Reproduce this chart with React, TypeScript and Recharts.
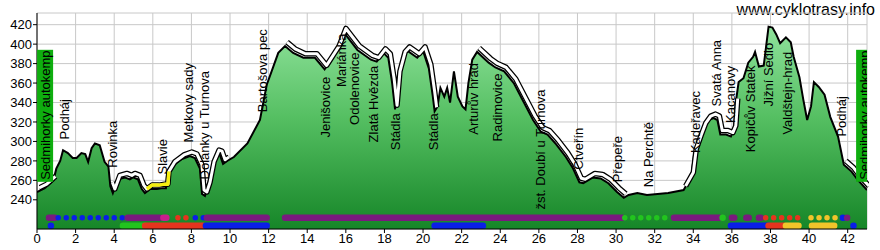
import { ComposedChart, Area, Line, Scatter, XAxis, YAxis, CartesianGrid } from "recharts";

// elevation profile, km along the route
const km = [
  0, 0.4, 0.85, 1.0, 1.2, 1.35, 1.6, 1.85, 2.05, 2.3, 2.5, 2.65, 2.83, 3.0, 3.25, 3.5, 3.7, 3.8, 3.93,
  4.19, 4.55, 4.81, 4.97, 5.23, 5.43, 5.59, 5.85, 6.21, 6.52, 6.68, 6.73, 7.04, 7.51, 7.92, 8.18, 8.44,
  8.55, 8.7, 8.86, 9.07, 9.33, 9.48, 9.64, 9.85, 10.2, 10.9, 11.55, 11.9, 12.5, 12.85, 13.27, 13.8, 14.4,
  14.9, 15.55, 15.9, 16.6, 17.3, 17.6, 17.95, 18.2, 18.4, 18.55, 18.7, 18.97, 19.2, 19.7, 20.0, 20.3, 20.5,
  20.6, 20.75, 20.9, 21.1, 21.25, 21.4, 21.6, 21.8, 22.04, 22.2, 22.35, 22.55, 22.8, 23.4, 23.75, 24.2,
  24.7, 25.2, 25.7, 26.1, 26.45, 26.9, 27.4, 27.75, 28.1, 28.3, 28.8, 29.2, 29.6, 30.05, 30.4, 30.65, 31.1,
  31.6, 32.15, 32.7, 33.5, 33.9, 34.05, 34.3, 34.55, 34.8, 35.05, 35.25, 35.4, 35.7, 35.95, 36.1, 36.2,
  36.35, 36.6, 36.85, 37.1, 37.2, 37.4, 37.65, 37.9, 38.1, 38.3, 38.5, 38.8, 39.05, 39.2, 39.5, 39.7, 39.9,
  40.1, 40.25, 40.5, 40.8, 41.1, 41.5, 41.8, 42.2, 42.5, 43.0,
];
const elevation = [
  248, 252, 260, 272, 280, 291, 288, 283, 283, 288, 287, 279, 293, 298, 296, 279, 274, 254, 247,
  261, 263, 261, 263, 261, 251, 247, 251, 251, 252, 252, 265, 275, 282, 285, 283, 272,
  246, 244, 254, 275, 287, 286, 277, 280, 284, 298, 322, 358, 391, 398, 391, 386, 386,
  374, 394, 412, 394, 384, 382, 391, 386, 360, 333, 368, 388, 393, 386, 393, 375, 347,
  331, 336, 355, 346, 355, 340, 372, 346, 336, 333, 360, 384, 392, 381, 376, 372,
  360, 341, 322, 310, 307, 297, 284, 273, 258, 257, 263, 262, 257, 248, 242, 245, 247,
  245, 246, 247, 250, 264, 288, 302, 315, 322, 324, 322, 307, 307, 305, 312, 340,
  361, 365, 381, 387, 392, 377, 378, 418, 417, 410, 401, 407, 402, 387, 366, 343, 322,
  336, 361, 356, 348, 325, 305, 276, 269, 261, 250,
];

// stretches drawn with the white outline
const bandSegments = [
  [0, 0.9], [3.75, 9.9], [12.6, 20.65], [22.8, 30.4], [33.0, 36.25], [41.7, 43],
];
const slavieSegment = [5.55, 6.75];

const xTicks = [0, 2, 4, 6, 8, 10, 12, 14, 16, 18, 20, 22, 24, 26, 28, 30, 32, 34, 36, 38, 40, 42];
const yTicks = [240, 260, 280, 300, 320, 340, 360, 380, 400, 420];

// waypoint names, position and where the text begins
const labelKm = [
  1.44, 3.93, 6.5, 7.83, 8.7, 11.66, 14.93, 15.8, 16.43, 17.42, 18.56, 20.53, 22.6, 23.86, 26.1,
  28.05, 30.08, 31.7, 34.1, 35.2, 35.95, 36.98, 37.92, 38.9, 41.66,
];
const labelNames = [
  "Podháj", "Rovinka", "Slavie", "Metkovy sady", "Dolánky u Turnova", "Bartošova pec", "Jenišovice",
  "Mariánka", "Odolenovice", "Zlatá Hvězda", "Stádla", "Stádla", "Arturův hrad", "Radimovice",
  "žst. Doubí u Turnova", "Čtveřín", "Přepeře", "Na Perchtě", "Kadeřavec", "Svatá Anna", "Kacanovy",
  "Kopičův Statek", "Jižní Sedlo", "Valdštejn-hrad", "Podháj",
];
const labelBase = [
  302, 273, 266, 299, 261, 330, 304, 356, 317, 299, 291, 291, 307, 300, 230,
  271, 258, 253, 288, 336, 319, 289, 336, 307, 305,
];
const campKm = [0.42, 42.85];
const campName = "Sedmihorky autokemp";
const campBase = 258.5;

// surface / road type strips: [from, to, colour, kind]
const purple = "#7a1a7e";
const blue = "#0a1ee8";
const green = "#22c41e";
const red = "#e6341e";
const yellow = "#f2c42a";
const magenta = "#c81e8c";

const stripTop: [number, number, string, string][] = [
  [0.62, 0.92, purple, "bar"],
  [1.1, 4.45, blue, "dots"],
  [4.7, 6.35, purple, "bar"],
  [6.55, 6.7, magenta, "bar"],
  [7.3, 7.72, red, "dots"],
  [8.2, 8.62, blue, "dots"],
  [8.8, 11.9, purple, "bar"],
  [12.85, 30.3, purple, "bar"],
  [30.45, 32.85, green, "dots"],
  [33.0, 35.35, purple, "bar"],
  [35.52, 35.52, green, "bar"],
  [36.0, 36.12, purple, "bar"],
  [36.75, 36.87, purple, "bar"],
  [37.4, 37.5, purple, "bar"],
  [37.75, 39.75, red, "dots"],
  [40.1, 41.4, yellow, "dots"],
  [41.75, 41.75, blue, "bar"],
  [41.97, 41.97, purple, "bar"],
];
const stripBottom: [number, number, string, string][] = [
  [0.72, 0.72, blue, "bar"],
  [4.45, 5.6, green, "bar"],
  [5.6, 8.6, red, "bar"],
  [8.75, 11.9, blue, "bar"],
  [20.6, 23.1, blue, "bar"],
  [35.95, 37.9, blue, "bar"],
  [37.9, 38.7, red, "bar"],
  [38.8, 39.45, yellow, "bar"],
  [40.15, 41.3, yellow, "bar"],
  [42.3, 42.3, blue, "bar"],
];
const ROW_TOP = 221.5;
const ROW_BOTTOM = 213.3;

const inside = (k: number, segs: number[][]) => segs.some(([a, b]) => k >= a && k <= b);

const profile = km.map((k, i) => ({
  km: k,
  elev: elevation[i],
  band: inside(k, bandSegments) ? elevation[i] : null,
  slavie: inside(k, [slavieSegment]) ? elevation[i] : null,
}));

const labels = labelKm.map((k, i) => ({ km: k, y: labelBase[i], name: labelNames[i] }));
const camps = campKm.map((k) => ({ km: k, y: campBase, name: campName }));

const FONT = "'Liberation Sans', Arial, sans-serif";

const VerticalLabel = (props: any) => {
  const { cx, cy, payload } = props;
  return (
    <text
      x={cx}
      y={cy}
      transform={`rotate(-90 ${cx} ${cy})`}
      fontSize={13}
      fontFamily={FONT}
      fill="#000"
      dominantBaseline="central"
      textAnchor="start"
    >
      {payload.name}
    </text>
  );
};

const CampLabel = (props: any) => {
  const { cx, cy, payload } = props;
  return (
    <g>
      <rect x={cx - 8} y={cy - 132} width={16} height={132} fill="#0fae0f" />
      <text
        x={cx}
        y={cy - 2}
        transform={`rotate(-90 ${cx} ${cy - 2})`}
        fontSize={13}
        fontFamily={FONT}
        fill="#000"
        dominantBaseline="central"
        textAnchor="start"
      >
        {payload.name}
      </text>
    </g>
  );
};

function stripLine(seg: [number, number, string, string], row: number, key: string) {
  const [a, b, color, kind] = seg;
  const dots = kind === "dots";
  return (
    <Line
      key={key}
      data={[
        { km: a, v: row },
        { km: b, v: row },
      ]}
      dataKey="v"
      type="linear"
      stroke={color}
      strokeWidth={dots ? 5.5 : 6.5}
      strokeLinecap="round"
      strokeDasharray={dots ? "0 8" : undefined}
      dot={false}
      activeDot={false}
      isAnimationActive={false}
    />
  );
}

export default function App() {
  return (
    <div style={{ position: "relative", width: 880, height: 250, background: "#fff" }}>
      <style>{`
        body { margin: 0; }
        .band path { transform: translate(2px, -4px); }
      `}</style>
      <div
        style={{
          position: "absolute",
          right: 5,
          top: 0,
          fontFamily: FONT,
          fontSize: 16,
          color: "#000",
          lineHeight: "19px",
        }}
      >
        www.cyklotrasy.info
      </div>
      <ComposedChart
        width={880}
        height={250}
        data={profile}
        margin={{ top: 13, right: 13, left: 0, bottom: 0 }}
      >
        <defs>
          <linearGradient id="hill" x1="0" y1="0" x2="0" y2="1">
            <stop offset="0%" stopColor="#8fe29b" />
            <stop offset="45%" stopColor="#55bf62" />
            <stop offset="100%" stopColor="#168628" />
          </linearGradient>
        </defs>
        <CartesianGrid stroke="#c8c8c8" strokeWidth={1} />
        <XAxis
          dataKey="km"
          type="number"
          domain={[0, 43]}
          ticks={xTicks}
          allowDataOverflow
          height={21}
          tickSize={4}
          tickMargin={1}
          axisLine={{ stroke: "#000" }}
          tickLine={{ stroke: "#000" }}
          tick={{ fontSize: 13, fill: "#000", fontFamily: FONT }}
          interval={0}
        />
        <YAxis
          type="number"
          domain={[210, 432]}
          ticks={yTicks}
          allowDataOverflow
          width={37}
          tickSize={4}
          tickMargin={1}
          axisLine={{ stroke: "#000" }}
          tickLine={{ stroke: "#000" }}
          tick={{ fontSize: 13, fill: "#000", fontFamily: FONT }}
          interval={0}
        />
        <Area
          dataKey="elev"
          type="linear"
          stroke="#000"
          strokeWidth={2}
          fill="url(#hill)"
          fillOpacity={1}
          baseValue={210}
          dot={false}
          activeDot={false}
          isAnimationActive={false}
        />
        <Line
          className="band"
          dataKey="band"
          type="linear"
          stroke="#000"
          strokeWidth={5.5}
          strokeLinejoin="round"
          dot={false}
          activeDot={false}
          isAnimationActive={false}
        />
        <Line
          className="band"
          dataKey="band"
          type="linear"
          stroke="#fff"
          strokeWidth={3}
          strokeLinejoin="round"
          dot={false}
          activeDot={false}
          isAnimationActive={false}
        />
        <Line
          className="band"
          dataKey="slavie"
          type="linear"
          stroke="#f5ee10"
          strokeWidth={3.5}
          strokeLinejoin="round"
          dot={false}
          activeDot={false}
          isAnimationActive={false}
        />
        {stripTop.map((s, i) => stripLine(s, ROW_TOP, `t${i}`))}
        {stripBottom.map((s, i) => stripLine(s, ROW_BOTTOM, `b${i}`))}
        <Scatter data={labels} dataKey="y" shape={VerticalLabel} isAnimationActive={false} />
        <Scatter data={camps} dataKey="y" shape={CampLabel} isAnimationActive={false} />
      </ComposedChart>
    </div>
  );
}
